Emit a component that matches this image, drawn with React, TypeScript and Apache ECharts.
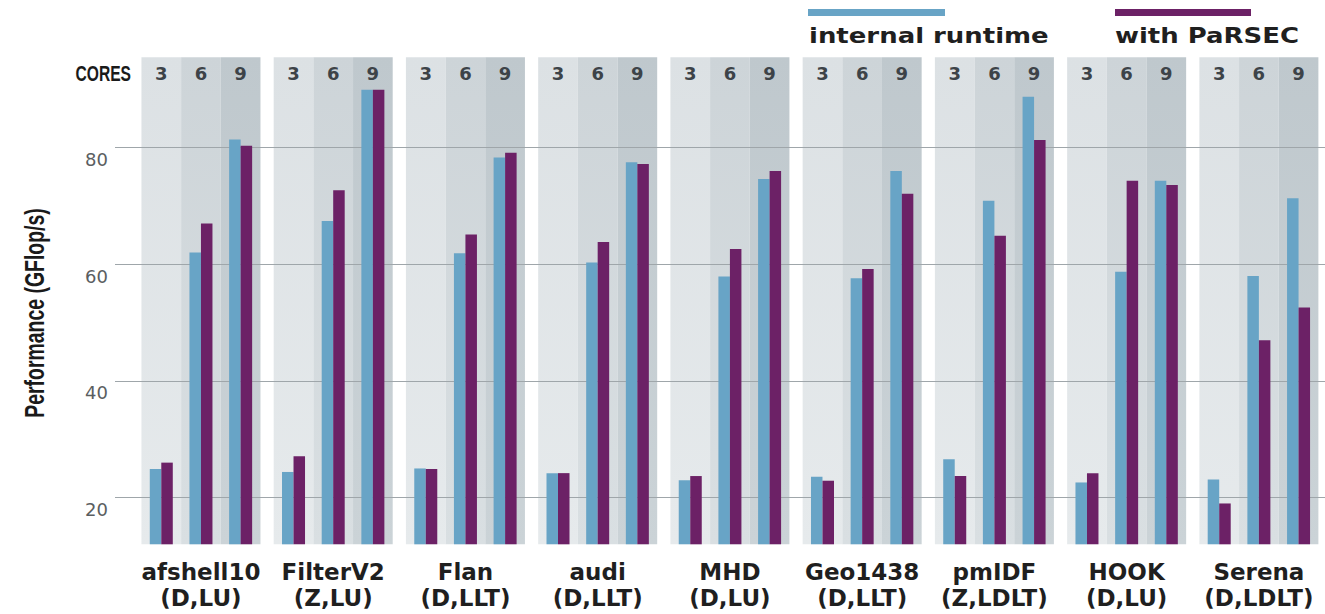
import React, { useEffect, useRef } from 'react';
import * as echarts from 'echarts';

// ---- data ----
const matrices = ['afshell10', 'FilterV2', 'Flan', 'audi', 'MHD', 'Geo1438', 'pmIDF', 'HOOK', 'Serena'];
const factorizations = ['(D,LU)', '(Z,LU)', '(D,LLT)', '(D,LLT)', '(D,LU)', '(D,LLT)', '(Z,LDLT)', '(D,LU)', '(D,LDLT)'];
const coreCounts = ['3', '6', '9'];
const seriesNames = ['internal runtime', 'with PaRSEC'];
// GFlop/s, per matrix: 3, 6, 9 cores
const internalRuntime = [
  24.9, 62.0, 81.4,
  24.4, 67.4, 89.9,
  25.0, 61.9, 78.3,
  24.2, 60.3, 77.5,
  23.0, 57.9, 74.6,
  23.6, 57.6, 76.0,
  26.6, 70.9, 88.7,
  22.6, 58.7, 74.3,
  23.1, 58.0, 71.3,
];
const withParsec = [
  26.0, 67.0, 80.3,
  27.1, 72.7, 89.9,
  24.9, 65.1, 79.1,
  24.2, 63.8, 77.2,
  23.7, 62.6, 76.0,
  22.9, 59.2, 72.1,
  23.7, 64.9, 81.3,
  24.2, 74.3, 73.6,
  19.0, 47.0, 52.6,
];
const yTickValues = [20, 40, 60, 80];
const yAxisTitle = 'Performance (GFlop/s)';
const coresTitle = 'CORES';

// ---- layout / style ----
const Y_MIN = 12;
const Y_MAX = 95.5;
const X_MIN = -2;
const X_MAX = 89.5;
const GROUP_SPAN = 10;
const CORE_SPAN = 3;
const BAR_W = 0.87;
const BLUE = '#68a4c6';
const PURPLE = '#6c2166';
const bandFills = [
  ['#dce1e4', '#e6eaec'],
  ['#cdd4d8', '#d9dfe2'],
  ['#bfc8cd', '#cbd3d7'],
];

const coreCenter = (g: number, c: number) => g * GROUP_SPAN + c * CORE_SPAN + CORE_SPAN / 2;
const groupCenter = (g: number) => g * GROUP_SPAN + (coreCounts.length * CORE_SPAN) / 2;

export default function App() {
  const ref = useRef<HTMLDivElement>(null);

  useEffect(() => {
    if (!ref.current) return;
    const chart = echarts.init(ref.current, undefined, { renderer: 'svg' });

    const bandData: number[][] = [];
    matrices.forEach((_, g) => {
      coreCounts.forEach((__, c) => {
        const s = g * GROUP_SPAN + c * CORE_SPAN;
        bandData.push([s, s + CORE_SPAN, c]);
      });
    });

    const toPoints = (vals: number[]) =>
      vals.map((v, i) => [coreCenter(Math.floor(i / coreCounts.length), i % coreCounts.length), v]);

    const groupCenters = matrices.map((_, g) => groupCenter(g));
    const coreCenters: number[] = [];
    matrices.forEach((_, g) => coreCounts.forEach((__, c) => coreCenters.push(coreCenter(g, c))));

    const barSeries = (name: string, vals: number[], color: string, side: number) => ({
      type: 'custom',
      name,
      z: 10,
      xAxisIndex: 0,
      yAxisIndex: 0,
      data: toPoints(vals),
      encode: { x: 0, y: 1 },
      renderItem: (params: any, api: any) => {
        const x = api.value(0);
        const y = api.value(1);
        const top = api.coord([x, y]);
        const base = api.coord([x, Y_MIN]);
        const w = api.size([BAR_W, 0])[0];
        const left = side === 0 ? top[0] - w : top[0];
        return {
          type: 'rect',
          shape: { x: left, y: top[1], width: w, height: base[1] - top[1] },
          style: { fill: color },
        };
      },
    });

    const option: any = {
      animation: false,
      grid: { left: 115, right: 0, top: 57.2, bottom: 69.7, containLabel: false },
      xAxis: [
        {
          type: 'value',
          min: X_MIN,
          max: X_MAX,
          position: 'bottom',
          axisLine: { show: false },
          axisTick: { show: false },
          splitLine: { show: false },
          axisLabel: {
            customValues: groupCenters,
            margin: 15,
            formatter: (v: number) => {
              const g = groupCenters.findIndex((c) => Math.abs(c - v) < 0.01);
              if (g < 0) return '';
              return `{n|${matrices[g]}}\n{n|${factorizations[g]}}`;
            },
            rich: {
              n: {
                fontFamily: 'DejaVu Sans',
                fontWeight: 'bold',
                fontSize: 23,
                lineHeight: 26,
                color: '#1f1f1f',
              },
            },
          },
        },
        {
          type: 'value',
          min: X_MIN,
          max: X_MAX,
          position: 'top',
          z: 20,
          axisLine: { show: false },
          axisTick: { show: false },
          splitLine: { show: false },
          axisLabel: {
            inside: true,
            customValues: coreCenters,
            margin: 7,
            fontFamily: 'DejaVu Sans',
            fontWeight: 'bold',
            fontSize: 18,
            color: '#3d4348',
            formatter: (v: number) => {
              const i = coreCenters.findIndex((c) => Math.abs(c - v) < 0.01);
              if (i < 0) return '';
              return coreCounts[i % coreCounts.length];
            },
          },
        },
      ],
      yAxis: {
        type: 'value',
        min: Y_MIN,
        max: Y_MAX,
        interval: 4,
        axisLine: { show: false },
        axisTick: { show: false },
        splitLine: { show: false },
        axisLabel: {
          margin: 7,
          fontFamily: 'DejaVu Sans',
          fontSize: 18,
          color: '#5a5e61',
          verticalAlign: 'top',
          padding: [3, 0, 0, 0],
          showMaxLabel: false,
          formatter: (v: number) => (yTickValues.indexOf(v) >= 0 ? String(v) : ''),
        },
      },
      series: [
        {
          type: 'custom',
          name: 'bands',
          z: 1,
          silent: true,
          data: bandData,
          encode: { x: [0, 1] },
          renderItem: (params: any, api: any) => {
            const s = api.value(0);
            const e = api.value(1);
            const k = api.value(2);
            const p1 = api.coord([s, Y_MAX]);
            const p2 = api.coord([e, Y_MIN]);
            const f = bandFills[k];
            return {
              type: 'rect',
              shape: { x: p1[0], y: p1[1], width: p2[0] - p1[0], height: p2[1] - p1[1] },
              style: {
                fill: new echarts.graphic.LinearGradient(0, 0, 0, 1, [
                  { offset: 0, color: f[0] },
                  { offset: 1, color: f[1] },
                ]),
              },
            };
          },
          markLine: {
            silent: true,
            z: 3,
            symbol: ['none', 'none'],
            label: { show: false },
            lineStyle: { color: '#9fa6aa', width: 1, type: 'solid' },
            data: yTickValues.map((v) => ({ yAxis: v })),
          },
        },
        barSeries(seriesNames[0], internalRuntime, BLUE, 0),
        barSeries(seriesNames[1], withParsec, PURPLE, 1),
      ],
      graphic: [
        {
          type: 'rect',
          left: 808,
          top: 9,
          shape: { width: 137, height: 7 },
          style: { fill: BLUE },
        },
        {
          type: 'text',
          x: 809,
          y: 36,
          scaleX: 1.18,
          style: {
            text: seriesNames[0],
            font: 'bold 22px "DejaVu Sans"',
            fill: '#1f1f1f',
            verticalAlign: 'middle',
            align: 'left',
          },
        },
        {
          type: 'rect',
          left: 1115,
          top: 9,
          shape: { width: 136, height: 7 },
          style: { fill: PURPLE },
        },
        {
          type: 'text',
          x: 1115,
          y: 36,
          scaleX: 1.18,
          style: {
            text: seriesNames[1],
            font: 'bold 22px "DejaVu Sans"',
            fill: '#1f1f1f',
            verticalAlign: 'middle',
            align: 'left',
          },
        },
        {
          type: 'text',
          x: 131,
          y: 74,
          scaleX: 0.71,
          style: {
            text: coresTitle,
            font: 'bold 22px "Liberation Sans"',
            fill: '#1a1a1a',
            verticalAlign: 'middle',
            align: 'right',
          },
        },
        {
          type: 'text',
          x: 35,
          y: 313,
          rotation: Math.PI / 2,
          scaleX: 0.72,
          style: {
            text: yAxisTitle,
            font: 'bold 27px "Liberation Sans"',
            fill: '#1a1a1a',
            verticalAlign: 'middle',
            align: 'center',
          },
        },
      ],
    };

    chart.setOption(option);
    return () => chart.dispose();
  }, []);

  return (
    <div
      ref={ref}
      style={{ position: 'fixed', left: 0, top: 0, width: 1325, height: 614, background: '#ffffff' }}
    />
  );
}
